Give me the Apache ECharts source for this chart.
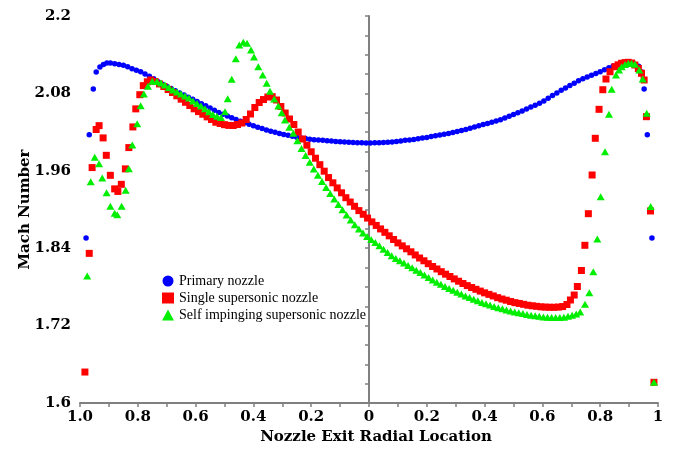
<!DOCTYPE html>
<html>
<head>
<meta charset="utf-8">
<script src="https://cdn.jsdelivr.net/npm/echarts@6/dist/echarts.min.js"></script>
<style>
html,body{margin:0;padding:0;background:#fff;}
#chart{width:684px;height:452px;}
</style>
</head>
<body>
<div id="chart"></div>
<script>
// ---- Data (x: radial location, left half negative; y: Mach number) ----
const seriesNames = ['Primary nozzle', 'Single supersonic nozzle', 'Self impinging supersonic nozzle'];

const primaryNozzle = [
[-0.979,1.856],[-0.968,2.016],[-0.954,2.087],[-0.944,2.113],[-0.931,2.121],[-0.919,2.125],[-0.907,2.127],
[-0.895,2.127],[-0.880,2.126],[-0.865,2.125],[-0.850,2.1235],[-0.835,2.1212],[-0.820,2.1183],[-0.805,2.1158],[-0.790,2.1135],[-0.775,2.1099],[-0.760,2.1064],[-0.745,2.1027],[-0.730,2.0982],[-0.715,2.0942],[-0.700,2.0909],[-0.685,2.0875],[-0.670,2.0842],[-0.655,2.0808],[-0.640,2.0775],[-0.625,2.0742],[-0.610,2.0708],[-0.595,2.0674],[-0.580,2.0640],[-0.565,2.0607],[-0.550,2.0574],[-0.535,2.0540],[-0.520,2.0505],[-0.505,2.0476],[-0.490,2.0450],[-0.475,2.0423],[-0.460,2.0397],[-0.445,2.0370],[-0.430,2.0346],[-0.415,2.0323],[-0.400,2.0300],[-0.385,2.0276],[-0.370,2.0254],[-0.355,2.0233],[-0.340,2.0213],[-0.325,2.0197],[-0.310,2.0180],[-0.295,2.0164],[-0.280,2.0150],[-0.265,2.0135],[-0.250,2.0122],[-0.235,2.0110],[-0.220,2.0099],[-0.205,2.0088],[-0.190,2.0083],[-0.175,2.0078],[-0.160,2.0072],[-0.145,2.0067],[-0.130,2.0061],[-0.115,2.0055],[-0.100,2.0050],[-0.085,2.0046],[-0.070,2.0042],[-0.055,2.0039],[-0.040,2.0036],[-0.025,2.0033],[-0.010,2.0031],
[0.005,2.0031],[0.020,2.0033],[0.035,2.0035],[0.050,2.0037],[0.065,2.0042],[0.080,2.0048],[0.095,2.0054],[0.110,2.0063],[0.125,2.0072],[0.140,2.0078],[0.155,2.0087],[0.170,2.0097],[0.185,2.0107],[0.200,2.0118],[0.215,2.0130],[0.230,2.0143],[0.245,2.0155],[0.260,2.0167],[0.275,2.0180],[0.290,2.0194],[0.305,2.0208],[0.320,2.0223],[0.335,2.0241],[0.350,2.0260],[0.365,2.0279],[0.380,2.0297],[0.395,2.0316],[0.410,2.0335],[0.425,2.0353],[0.440,2.0372],[0.455,2.0391],[0.470,2.0418],[0.485,2.0445],[0.500,2.0472],[0.515,2.0500],[0.530,2.0528],[0.545,2.0558],[0.560,2.0588],[0.575,2.0618],[0.590,2.0648],[0.605,2.0684],[0.620,2.0725],[0.635,2.0767],[0.650,2.0808],[0.665,2.0847],[0.680,2.0884],[0.695,2.0921],[0.710,2.0958],[0.725,2.0996],[0.740,2.1026],[0.755,2.1054],[0.770,2.1081],[0.785,2.1109],[0.800,2.1137],[0.815,2.1167],[0.830,2.1198],[0.845,2.1226],[0.860,2.1240],[0.875,2.1253],[0.890,2.1265],[0.905,2.1266],[0.920,2.1252],
[0.933,2.122],[0.944,2.113],[0.952,2.087],[0.963,2.016],[0.979,1.856]
];

const singleSupersonic = [
[-0.983,1.648],[-0.968,1.832],[-0.958,1.965],[-0.944,2.024],[-0.934,2.030],[-0.920,2.011],[-0.909,1.984],[-0.895,1.953],[-0.880,1.932],[-0.869,1.928],[-0.857,1.939],[-0.843,1.963],[-0.831,1.996],[-0.817,2.028],[-0.807,2.056],[-0.793,2.078],[-0.781,2.092],[-0.767,2.098],
[-0.755,2.1008],[-0.740,2.0984],[-0.725,2.0946],[-0.710,2.0907],[-0.695,2.0860],[-0.680,2.0814],[-0.665,2.0763],[-0.650,2.0710],[-0.635,2.0662],[-0.620,2.0612],[-0.605,2.0561],[-0.590,2.0518],[-0.575,2.0477],[-0.560,2.0436],[-0.545,2.0395],[-0.530,2.0353],[-0.515,2.0333],[-0.500,2.0315],[-0.485,2.0304],[-0.470,2.0302],[-0.455,2.0318],[-0.440,2.0341],[-0.425,2.0395],[-0.410,2.0481],[-0.395,2.0581],[-0.380,2.0659],[-0.365,2.0705],[-0.350,2.0744],[-0.335,2.0749],[-0.320,2.0698],[-0.305,2.0597],[-0.290,2.0496],[-0.275,2.0403],[-0.260,2.0318],[-0.245,2.0201],[-0.230,2.0093],[-0.215,1.9997],[-0.200,1.9895],[-0.185,1.9795],[-0.170,1.9695],[-0.155,1.9594],[-0.140,1.9495],[-0.125,1.9414],[-0.110,1.9335],[-0.095,1.9259],[-0.080,1.9183],[-0.065,1.9116],[-0.050,1.9050],[-0.035,1.8983],[-0.020,1.8926],[-0.005,1.8867],
[0.010,1.8808],[0.025,1.8753],[0.040,1.8699],[0.055,1.8646],[0.070,1.8592],[0.085,1.8535],[0.100,1.8482],[0.115,1.8436],[0.130,1.8391],[0.145,1.8344],[0.160,1.8295],[0.175,1.8248],[0.190,1.8205],[0.205,1.8160],[0.220,1.8116],[0.235,1.8078],[0.250,1.8036],[0.265,1.7997],[0.280,1.7961],[0.295,1.7924],[0.310,1.7888],[0.325,1.7853],[0.340,1.7820],[0.355,1.7791],[0.370,1.7763],[0.385,1.7735],[0.400,1.7708],[0.415,1.7684],[0.430,1.7660],[0.445,1.7633],[0.460,1.7612],[0.475,1.7594],[0.490,1.7573],[0.505,1.7556],[0.520,1.7544],[0.535,1.7530],[0.550,1.7516],[0.565,1.7507],[0.580,1.7499],[0.595,1.7491],[0.610,1.7487],[0.625,1.7484],[0.640,1.7484],[0.655,1.7487],[0.670,1.7495],
[0.685,1.7527],[0.697,1.7597],[0.710,1.7674],[0.721,1.7806],[0.735,1.8054],[0.747,1.8445],[0.759,1.8935],[0.772,1.9535],[0.783,2.0104],[0.796,2.0553],[0.809,2.0857],[0.820,2.1023],[0.834,2.1136],[0.851,2.1214],[0.862,2.1243],[0.874,2.1267],[0.886,2.1277],[0.897,2.1282],[0.909,2.1271],[0.920,2.1240],[0.932,2.1186],[0.943,2.1112],[0.952,2.1008],[0.960,2.0439],[0.974,1.8977],[0.986,1.6321]
];

const selfImpinging = [
[-0.975,1.797],[-0.963,1.943],[-0.949,1.981],[-0.934,1.971],[-0.923,1.949],[-0.908,1.926],[-0.895,1.905],[-0.880,1.894],[-0.871,1.892],[-0.856,1.905],[-0.842,1.930],[-0.831,1.963],[-0.819,2.000],[-0.802,2.033],[-0.790,2.061],[-0.779,2.079],[-0.765,2.091],[-0.750,2.099],
[-0.7336,2.0984],[-0.7197,2.0961],[-0.7059,2.0930],[-0.6920,2.0891],[-0.6782,2.0853],[-0.6644,2.0822],[-0.6505,2.0791],[-0.6367,2.0760],[-0.6228,2.0729],[-0.6090,2.0682],[-0.5952,2.0643],[-0.5813,2.0605],[-0.5675,2.0561],[-0.5536,2.0515],[-0.5398,2.0473],[-0.5260,2.0445],[-0.5121,2.0426],
[-0.4983,2.0516],[-0.4889,2.0718],[-0.4751,2.1019],[-0.4609,2.1336],[-0.4488,2.1550],[-0.4349,2.1594],[-0.4221,2.1577],[-0.4083,2.1473],[-0.3979,2.1364],[-0.3830,2.1214],[-0.3678,2.1085],[-0.3540,2.0957],[-0.3426,2.0832],[-0.3280,2.0713],[-0.3138,2.0605],[-0.3021,2.0501],[-0.2907,2.0388],[-0.2758,2.0274],[-0.2619,2.0181],
[-0.2478,2.0065],[-0.2336,1.9947],[-0.2194,1.9837],[-0.2052,1.9732],[-0.1910,1.9628],[-0.1768,1.9530],[-0.1626,1.9436],[-0.1484,1.9341],[-0.1343,1.9250],[-0.1201,1.9164],[-0.1059,1.9076],[-0.0917,1.8995],[-0.0775,1.8916],[-0.0633,1.8837],[-0.0491,1.8763],[-0.0349,1.8699],[-0.0208,1.8636],[-0.0066,1.8580],
[0.0076,1.8535],[0.0218,1.8488],[0.0360,1.8439],[0.0502,1.8384],[0.0644,1.8333],[0.0785,1.8282],[0.0927,1.8242],[0.1069,1.8206],[0.1211,1.8171],[0.1353,1.8133],[0.1495,1.8098],[0.1637,1.8060],[0.1779,1.8022],[0.1920,1.7984],[0.2062,1.7946],[0.2204,1.7908],[0.2346,1.7874],[0.2488,1.7840],[0.2630,1.7806],[0.2772,1.7777],[0.2913,1.7747],[0.3055,1.7718],[0.3197,1.7689],[0.3339,1.7659],[0.3481,1.7634],[0.3623,1.7608],[0.3765,1.7584],[0.3907,1.7560],[0.4048,1.7540],[0.4190,1.7518],[0.4332,1.7496],[0.4474,1.7478],[0.4616,1.7461],[0.4758,1.7443],[0.4900,1.7426],[0.5042,1.7411],[0.5183,1.7398],[0.5325,1.7386],[0.5467,1.7374],[0.5609,1.7361],[0.5751,1.7353],[0.5893,1.7344],[0.6035,1.7335],[0.6176,1.7329],[0.6318,1.7327],[0.6460,1.7327],[0.6602,1.7327],[0.6744,1.7330],[0.6886,1.7344],[0.7028,1.7360],[0.7170,1.7380],[0.7308,1.7411],
[0.7474,1.7530],[0.7623,1.7710],[0.7761,1.8036],[0.7900,1.8543],[0.8017,1.9198],[0.8166,1.9896],[0.8304,2.0476],[0.8398,2.0864],[0.8547,2.1085],[0.8651,2.1163],[0.8744,2.1214],[0.8858,2.1248],[0.8972,2.1267],[0.9087,2.1267],[0.9204,2.1251],[0.9353,2.1163],[0.9471,2.1023],[0.9609,2.0492],[0.9747,1.9046],[0.9862,1.6321]
];

// ---- Axis ticks / labels ----
const xTickValues = [-1, -0.8, -0.6, -0.4, -0.2, 0, 0.2, 0.4, 0.6, 0.8, 1];
const xTickLabels = ['1.0', '0.8', '0.6', '0.4', '0.2', '0', '0.2', '0.4', '0.6', '0.8', '1'];
const xTickMarks = [-1,-0.9,-0.8,-0.7,-0.6,-0.5,-0.4,-0.3,-0.2,-0.1,0,0.1,0.2,0.3,0.4,0.5,0.6,0.7,0.8,0.9,1];
const yTickValues = [1.6, 1.72, 1.84, 1.96, 2.08, 2.2];
const yTickLabels = ['1.6', '1.72', '1.84', '1.96', '2.08', '2.2'];
const yTickMarks = [1.6,1.63,1.66,1.69,1.72,1.75,1.78,1.81,1.84,1.87,1.9,1.93,1.96,1.99,2.02,2.05,2.08,2.11,2.14,2.17,2.2];

function lookup(vals, labels, v) {
  for (let i = 0; i < vals.length; i++) if (Math.abs(vals[i] - v) < 1e-6) return labels[i];
  return '';
}

const axisFont = { fontFamily: 'DejaVu Serif', fontWeight: 'bold', fontSize: 15, color: '#000' };
const axisGray = '#808080';

const chart = echarts.init(document.getElementById('chart'), null, { renderer: 'canvas' });
chart.setOption({
  animation: false,
  backgroundColor: '#fff',
  grid: { left: 80, right: 26, top: 16, bottom: 49, containLabel: false },
  legend: {
    orient: 'vertical',
    left: 157,
    top: 268,
    itemWidth: 12,
    itemHeight: 11,
    itemGap: 1,
    textStyle: { fontFamily: 'Liberation Serif', fontSize: 14, color: '#000', lineHeight: 16 },
    data: [
      { name: seriesNames[0], icon: 'circle' },
      { name: seriesNames[1], icon: 'rect' },
      { name: seriesNames[2], icon: 'triangle' }
    ]
  },
  xAxis: {
    type: 'value',
    min: -1, max: 1,
    name: 'Nozzle Exit Radial Location',
    nameLocation: 'middle',
    nameGap: 27,
    nameMoveOverlap: false,
    nameTextStyle: Object.assign({}, axisFont, { padding: [0, 0, 0, 14] }),
    axisLine: { lineStyle: { color: axisGray, width: 2 } },
    axisTick: { show: true, customValues: xTickMarks, length: 4, lineStyle: { color: axisGray, width: 1.5 } },
    axisLabel: Object.assign({}, axisFont, {
      customValues: xTickValues, margin: 7,
      formatter: v => lookup(xTickValues, xTickLabels, v)
    }),
    splitLine: { show: false }
  },
  yAxis: {
    type: 'value',
    min: 1.6, max: 2.2,
    name: 'Mach Number',
    nameLocation: 'middle',
    nameGap: 47,
    nameMoveOverlap: false,
    nameTextStyle: axisFont,
    axisLine: { show: true, lineStyle: { color: axisGray, width: 2 } },
    axisTick: { show: true, customValues: yTickMarks, length: 4, lineStyle: { color: axisGray, width: 1.5 } },
    axisLabel: Object.assign({}, axisFont, {
      customValues: yTickValues, margin: 9,
      formatter: v => lookup(yTickValues, yTickLabels, v)
    }),
    splitLine: { show: false }
  },
  series: [
    { name: seriesNames[0], type: 'scatter', symbol: 'circle', symbolSize: 5.5,
      itemStyle: { color: '#0000ff', opacity: 1 }, data: primaryNozzle, z: 1 },
    { name: seriesNames[1], type: 'scatter', symbol: 'rect', symbolSize: 7,
      itemStyle: { color: '#ff0000', opacity: 1 }, data: singleSupersonic, z: 2 },
    { name: seriesNames[2], type: 'scatter', symbol: 'triangle', symbolSize: [8, 7],
      itemStyle: { color: '#00ee00', opacity: 1 }, data: selfImpinging, z: 3 }
  ]
});
</script>
</body>
</html>
